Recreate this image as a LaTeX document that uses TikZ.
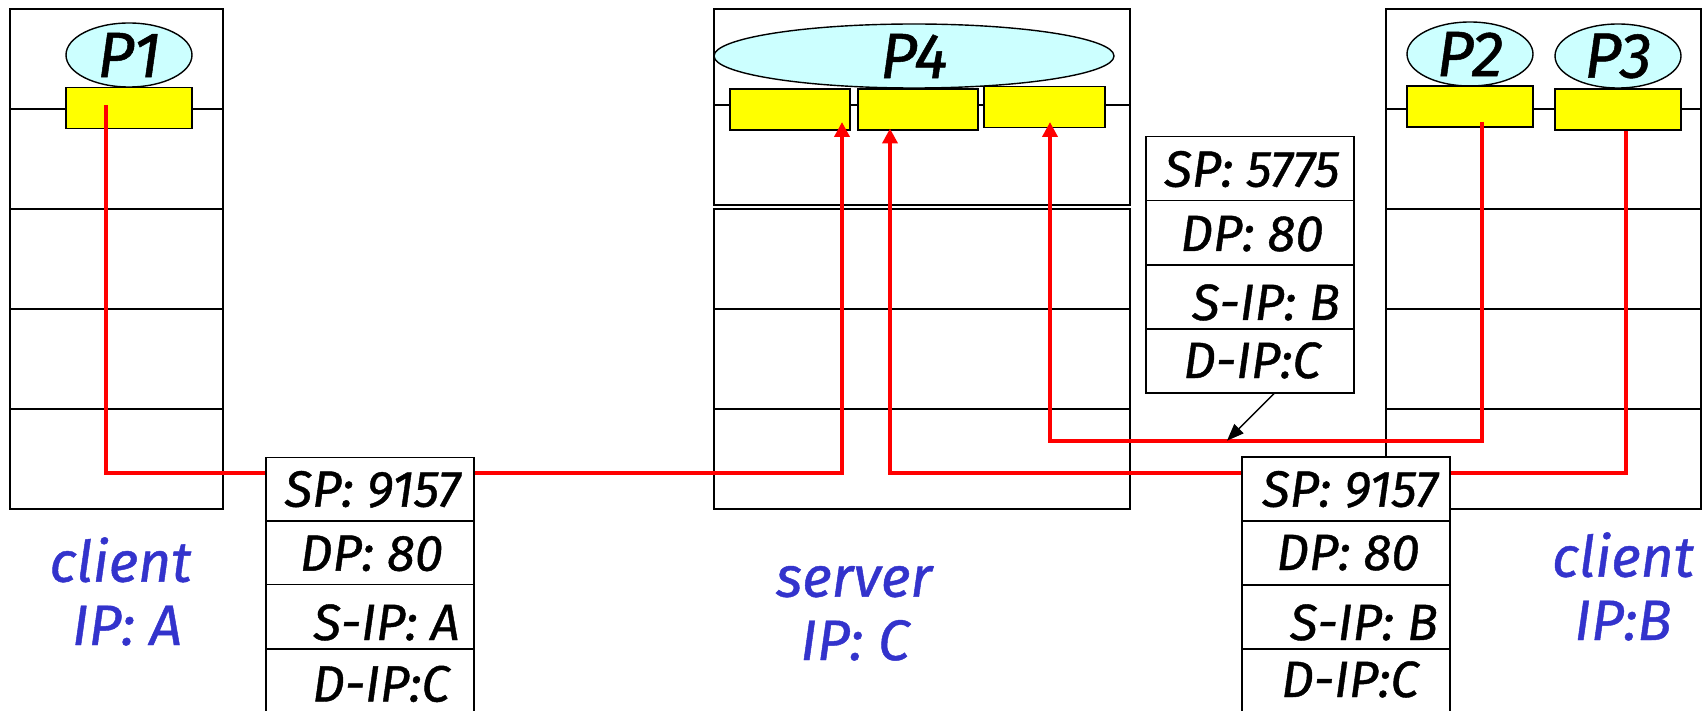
\documentclass[tikz,border=0pt]{standalone}
\usepackage{fontspec}
\setmainfont{Fira Sans}[ItalicFeatures={FakeBold=0.8}]
\usetikzlibrary{arrows.meta,shapes.geometric}
\definecolor{pblue}{HTML}{3333CC}
\definecolor{pcyan}{HTML}{CCFFFF}
\definecolor{pyellow}{HTML}{FFFF00}
\definecolor{pred}{HTML}{FF0000}
\begin{document}
\begin{tikzpicture}[x=1pt,y=-1pt,
  hostbox/.style={draw=black,line width=1.6pt,inner sep=0pt},
  hline/.style={draw=black,line width=1.5pt},
  proc/.style={ellipse,draw=black,line width=1.4pt,fill=pcyan,inner sep=0pt,
    font=\itshape\fontsize{64}{70}\selectfont},
  sock/.style={draw=black,line width=1.6pt,fill=pyellow,inner sep=0pt,minimum height=41pt},
  pktrow/.style={draw=black,line width=1.6pt,fill=white,inner sep=0pt,minimum width=208pt},
  ptxt/.style={anchor=base,inner sep=0pt,font=\itshape\fontsize{51}{60}\selectfont},
  htxt/.style={anchor=base,inner sep=0pt,text=pblue,font=\itshape\fontsize{57}{64}\selectfont},
  redpath/.style={draw=pred,line width=4pt},
  redarrow/.style={redpath,-{Triangle[length=15pt,width=15pt]}},
  callout/.style={draw=black,line width=1.4pt,-{Triangle[length=17pt,width=13pt]}}
]
\useasboundingbox (0,0) rectangle (1706,711);
\clip (0,0) rectangle (1706,711);

% ---------- hosts ----------
\node[hostbox,minimum width=213pt,minimum height=500pt] (hostA) at (116.5,259) {};
\node[hostbox,minimum width=416pt,minimum height=196pt] (srvtop) at (922,107) {};
\node[hostbox,minimum width=416pt,minimum height=300pt] (srvbot) at (922,359) {};
\node[hostbox,minimum width=315pt,minimum height=500pt] (hostB) at (1543.5,259) {};

% layer lines
\foreach \yy in {109,209,309,409}{
  \draw[hline] (hostA.west |- 0,\yy) -- (hostA.east |- 0,\yy);
  \draw[hline] (hostB.west |- 0,\yy) -- (hostB.east |- 0,\yy);
}
\draw[hline] (srvtop.west |- 0,105) -- (srvtop.east |- 0,105);
\foreach \yy in {309,409}{
  \draw[hline] (srvbot.west |- 0,\yy) -- (srvbot.east |- 0,\yy);
}

% ---------- processes ----------
\node[proc,minimum width=126pt,minimum height=64pt] (P1) at (129,55) {P1};
\node[proc,minimum width=400pt,minimum height=64pt] (P4) at (914,56) {P4};
\node[proc,minimum width=126pt,minimum height=64pt] (P2) at (1470,54) {P2};
\node[proc,minimum width=126pt,minimum height=64pt] (P3) at (1618,56) {P3};

% ---------- sockets ----------
\node[sock,minimum width=126pt] (s1) at (129,108) {};
\node[sock,minimum width=120pt] (s4a) at (790,109.3) {};
\node[sock,minimum width=120pt] (s4b) at (918,109.3) {};
\node[sock,minimum width=121pt] (s4c) at (1044.5,107.2) {};
\node[sock,minimum width=126pt] (s2) at (1470,106.8) {};
\node[sock,minimum width=126pt] (s3) at (1618,109.5) {};

% ---------- red connections ----------
\coordinate (a1) at (106,105);
\coordinate (t1) at (842,122);
\draw[redarrow] (a1) |- (842,472.7) -- (t1);
\coordinate (a3) at (1626,131);
\coordinate (t2) at (890,128.5);
\draw[redarrow] (a3) |- (890,472.7) -- (t2);
\coordinate (a2) at (1482,122);
\coordinate (t3) at (1050,122);
\draw[redarrow] (a2) |- (1050,440.7) -- (t3);

% ---------- packets ----------
% left packet
\node[pktrow,minimum height=63.4pt] (pa1) at (369.7,489) {};
\node[pktrow,minimum height=63.6pt] (pa2) at (369.7,552.5) {};
\node[pktrow,minimum height=64.4pt] (pa3) at (369.7,616.5) {};
\node[pktrow,minimum height=64.3pt] (pa4) at (369.7,680.85) {};
% middle packet
\node[pktrow,minimum height=64pt] (pm1) at (1250,168.7) {};
\node[pktrow,minimum height=64.3pt] (pm2) at (1250,232.85) {};
\node[pktrow,minimum height=64pt] (pm3) at (1250,297) {};
\node[pktrow,minimum height=63.7pt] (pm4) at (1250,360.85) {};
% right packet
\node[pktrow,minimum height=64pt] (pb1) at (1346,488.7) {};
\node[pktrow,minimum height=64.3pt] (pb2) at (1346,552.85) {};
\node[pktrow,minimum height=64pt] (pb3) at (1346,617) {};
\node[pktrow,minimum height=64pt] (pb4) at (1346,681) {};

% packet texts
\node[ptxt] (ta1) at (372.5,506.7) {SP: 9157};
\node[ptxt] (ta2) at (371.5,570.7) {DP: 80};
\node[ptxt] (ta3) at (386.5,640) {S-IP: A};
\node[ptxt] (ta4) at (381,701.5) {D-IP:C};

\node[ptxt] (tm1) at (1252,186.7) {SP: 5775};
\node[ptxt] (tm2) at (1252,251) {DP: 80};
\node[ptxt] (tm3) at (1266,320) {S-IP: B};
\node[ptxt] (tm4) at (1252,378) {D-IP:C};

\node[ptxt] (tb1) at (1350,506.7) {SP: 9157};
\node[ptxt] (tb2) at (1348,570) {DP: 80};
\node[ptxt] (tb3) at (1364,640) {S-IP: B};
\node[ptxt] (tb4) at (1350,697) {D-IP:C};

% callout arrow
\coordinate (ctip) at (1227,440.7);
\draw[callout] ([xshift=24pt]pm4.south) -- (ctip);

% ---------- host labels ----------
\node[htxt] (la1) at (120.5,581.7) {client};
\node[htxt] (la2) at (127,645) {IP: A};
\node[htxt] (ls1) at (854,596.7) {server};
\node[htxt] (ls2) at (855,660) {IP: C};
\node[htxt] (lb1) at (1623,576.7) {client};
\node[htxt] (lb2) at (1623,640) {IP:B};
\end{tikzpicture}
\end{document}
